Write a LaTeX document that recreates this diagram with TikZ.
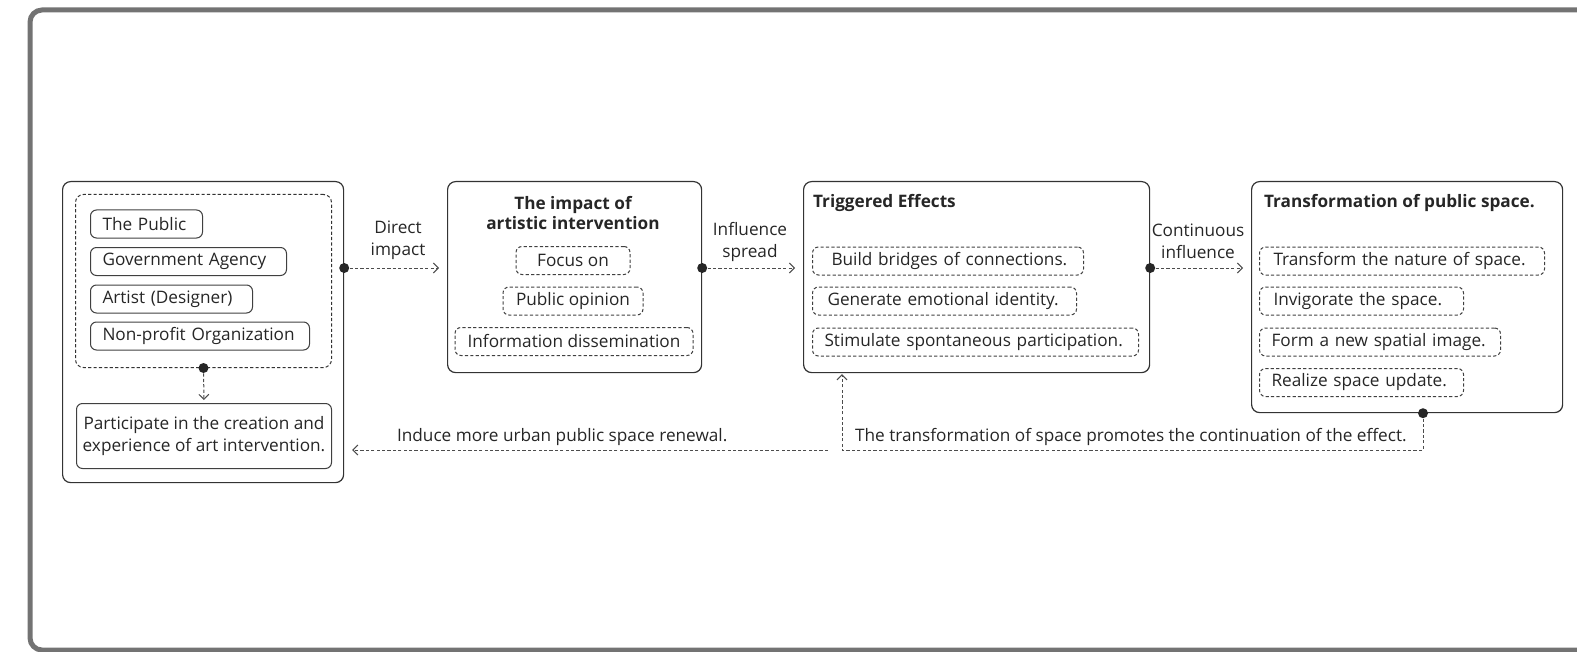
\documentclass[tikz,border=0pt]{standalone}
\usepackage{fontspec}
\setmainfont{Open Sans}
\usetikzlibrary{arrows.meta}
\begin{document}
\begin{tikzpicture}[x=0.5pt, y=-0.5pt,
	font=\fontsize{8.6}{11}\selectfont, text=black!85,
	bigbox/.style={draw=black!80, line width=0.6pt, rounded corners=4pt, anchor=north west, inner sep=0pt},
	pill/.style={draw=black!75, line width=0.5pt, rounded corners=3pt, minimum height=14pt, inner sep=0pt},
	lpill/.style={pill, anchor=west, inner xsep=6pt, text width=#1, align=left},
	dpill/.style={pill, dash pattern=on 1.6pt off 1.1pt},
	ldpill/.style={lpill=#1, dash pattern=on 1.6pt off 1.1pt},
	title/.style={font=\fontsize{8.6}{10.3}\selectfont\bfseries},
	flow/.style={draw=black!70, line width=0.5pt, dash pattern=on 1.6pt off 1.1pt, -{Straight Barb[length=2.5pt, width=5pt]}},
	dot/.style={fill=black!85}]
	\useasboundingbox (0,0) rectangle (1577,652);
	\clip (0,0) rectangle (1577,652);
	% Frame
	\draw [draw=black!55, line width=2.5pt, rounded corners=6pt] (30,10) rectangle (1650,650);
	
	% Participants
	\node[bigbox, minimum width=140.5pt, minimum height=150.5pt] (actors) at (62,181) {};
	\node[bigbox, dash pattern=on 1.6pt off 1.1pt, line width=0.5pt, minimum width=128pt, minimum height=86.5pt] (group) at (75,194) {};
	\node[lpill=44pt] (public) at (90,224) {The Public};
	\node[lpill=86pt] (gov) at (90,261.5) {Government Agency};
	\node[lpill=69pt] (artist) at (90,299) {Artist (Designer)};
	\node[lpill=97.5pt] (npo) at (90,336) {Non-profit Organization};
	\node[pill, anchor=north west, minimum width=127.5pt, minimum height=32.5pt, align=center] (participate) at (76,403) {Participate in the creation and\\experience of art intervention.};
	
	% Impact
	\node[bigbox, minimum width=127pt, minimum height=95.5pt] (impact) at (447,181) {};
	\node[title, align=center] (impT) at (573,213) {The impact of\\artistic intervention};
	\node[dpill, minimum width=57pt] (focus) at (573,260.5) {Focus on};
	\node[dpill, minimum width=70pt] (opinion) at (573,301) {Public opinion};
	\node[dpill, minimum width=119pt] (info) at (574,341.5) {Information dissemination};
	
	% Effects
	\node[bigbox, minimum width=173pt, minimum height=95.5pt] (effects) at (803,181) {};
	\node[title, anchor=west] (effT) at (806,203) {Triggered Effects};
	\node[ldpill=123.5pt] (bridge) at (812,261) {\hspace*{3.5pt}Build bridges of connections.};
	\node[ldpill=120pt] (emotion) at (812,301) {\hspace*{1.5pt}Generate emotional identity.};
	\node[ldpill=151pt] (stimulate) at (812,342) {Stimulate spontaneous participation.};
	
	% Space
	\node[bigbox, minimum width=155.5pt, minimum height=115.5pt] (space) at (1251,181) {};
	\node[title, anchor=west] (spaceT) at (1257,203) {Transformation of public space.};
	\node[ldpill=130.5pt] (nature) at (1259,261) {\hspace*{1pt}Transform the nature of space.};
	\node[ldpill=90pt] (invig) at (1259,301) {\hspace*{1pt}Invigorate the space.};
	\node[ldpill=108.5pt] (image) at (1259,342) {Form a new spatial image.};
	\node[ldpill=90pt] (update) at (1259,382.5) {Realize space update.};
	
	% Connectors
	\coordinate (row) at (0,268);
	\coordinate (fb) at (1423,450);
	\coordinate (fc) at (842,450);
	\coordinate (ind) at (828,450);
	\draw[flow, shorten >=4pt] (actors.east |- row) -- (impact.west |- row);
	\draw[flow, shorten >=4pt] (impact.east |- row) -- (effects.west |- row);
	\draw[flow, shorten >=4pt] (effects.east |- row) -- (space.west |- row);
	\draw[flow, shorten >=1.5pt] (group.south) -- (participate.north);
	\draw[flow, shorten >=0.5pt] (space.south -| fb) -- (fb) -- (fc) -- (effects.south -| fc);
	\draw[flow, shorten >=4pt] (ind) -- (actors.east |- ind);
	\fill[dot] (actors.east |- row) circle (2.5pt);
	\fill[dot] (impact.east |- row) circle (2.5pt);
	\fill[dot] (effects.east |- row) circle (2.5pt);
	\fill[dot] (group.south) circle (2.5pt);
	\fill[dot] (space.south -| fb) circle (2.5pt);
	
	% Connector labels
	\node[align=center] (l1) at (398,240) {Direct\\impact};
	\node[align=center] (l2) at (750,242) {Influence\\spread};
	\node[align=center] (l3) at (1198,241) {Continuous\\influence};
	\node[anchor=west] (l4) at (390,437) {Induce more urban public space renewal.};
	\node[anchor=west] (l5) at (848,437) {The transformation of space promotes the continuation of the effect.};
	
\end{tikzpicture}
\end{document}
